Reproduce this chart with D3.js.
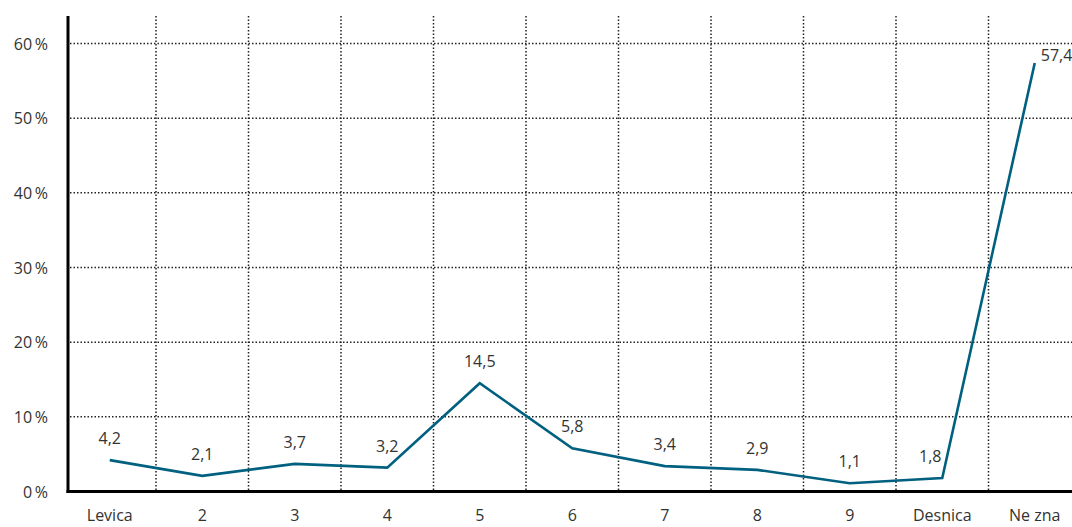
<!DOCTYPE html>
<html><head><meta charset="utf-8">
<script src="https://cdn.jsdelivr.net/npm/d3@7"></script>
<style>body{margin:0;background:#fff}svg{display:block}text{font-family:"Open Sans","Noto Sans",sans-serif;fill:#333}</style>
</head><body>
<svg id="c" width="1072" height="527"></svg>
<script>
const categories = ["Levica","2","3","4","5","6","7","8","9","Desnica","Ne zna"];
const values = [4.2,2.1,3.7,3.2,14.5,5.8,3.4,2.9,1.1,1.8,57.4];
const valueLabels = ["4,2","2,1","3,7","3,2","14,5","5,8","3,4","2,9","1,1","1,8","57,4"];
const yTicks = [0,10,20,30,40,50,60];
const yTickLabels = ["0\u2009%","10\u2009%","20\u2009%","30\u2009%","40\u2009%","50\u2009%","60\u2009%"];

const svg = d3.select("#c");
const x = d3.scaleBand().domain(categories).range([63.5, 63.5 + 11*92.5]);
const y = d3.scaleLinear().domain([0,60]).range([491.5, 43.5]);
const axisX = 68, topY = 16, rightX = 1072;

// horizontal grid
svg.append("g").selectAll("line").data(yTicks.filter(d=>d>0)).join("line")
  .attr("x1", axisX+2).attr("x2", rightX)
  .attr("y1", d=>y(d)).attr("y2", d=>y(d))
  .attr("stroke","#222").attr("stroke-width",1.5).attr("stroke-dasharray","1.5,2");
// vertical grid at band boundaries
svg.append("g").selectAll("line").data(categories.slice(1)).join("line")
  .attr("x1", d=>x(d)).attr("x2", d=>x(d))
  .attr("y1", topY).attr("y2", y(0))
  .attr("stroke","#222").attr("stroke-width",1.5).attr("stroke-dasharray","1.5,2");

// axes lines
svg.append("line").attr("x1",axisX).attr("x2",axisX).attr("y1",topY).attr("y2",y(0)+1.5)
  .attr("stroke","#000").attr("stroke-width",3);
svg.append("line").attr("x1",axisX-1.5).attr("x2",rightX).attr("y1",y(0)).attr("y2",y(0))
  .attr("stroke","#000").attr("stroke-width",3);

// y tick labels
svg.append("g").selectAll("text").data(yTicks).join("text")
  .attr("x", 48).attr("y", d=>y(d)+6).attr("text-anchor","end")
  .attr("font-size",16).text((d,i)=>yTickLabels[i]);

// x labels
svg.append("g").selectAll("text").data(categories).join("text")
  .attr("x", d=>x(d)+x.bandwidth()/2).attr("y", 521).attr("text-anchor","middle")
  .attr("font-size",16).text(d=>d);

// line
const cx = d=>x(d)+x.bandwidth()/2;
svg.append("path").datum(values)
  .attr("d", d3.line().x((d,i)=>cx(categories[i])).y(d=>y(d)))
  .attr("fill","none").attr("stroke","#00607f").attr("stroke-width",2.6).attr("stroke-linejoin","miter");

// value labels
const n = values.length;
svg.append("g").selectAll("text").data(values).join("text")
  .attr("x", (d,i)=> i===n-1 ? cx(categories[i])+6 : (i===n-2 ? cx(categories[i])-12 : cx(categories[i])))
  .attr("y", (d,i)=> i===n-1 ? y(d)-2 : y(d)-16)
  .attr("text-anchor", (d,i)=> i===n-1 ? "start" : "middle")
  .attr("font-size",16).text((d,i)=>valueLabels[i]);
</script>
</body></html>
